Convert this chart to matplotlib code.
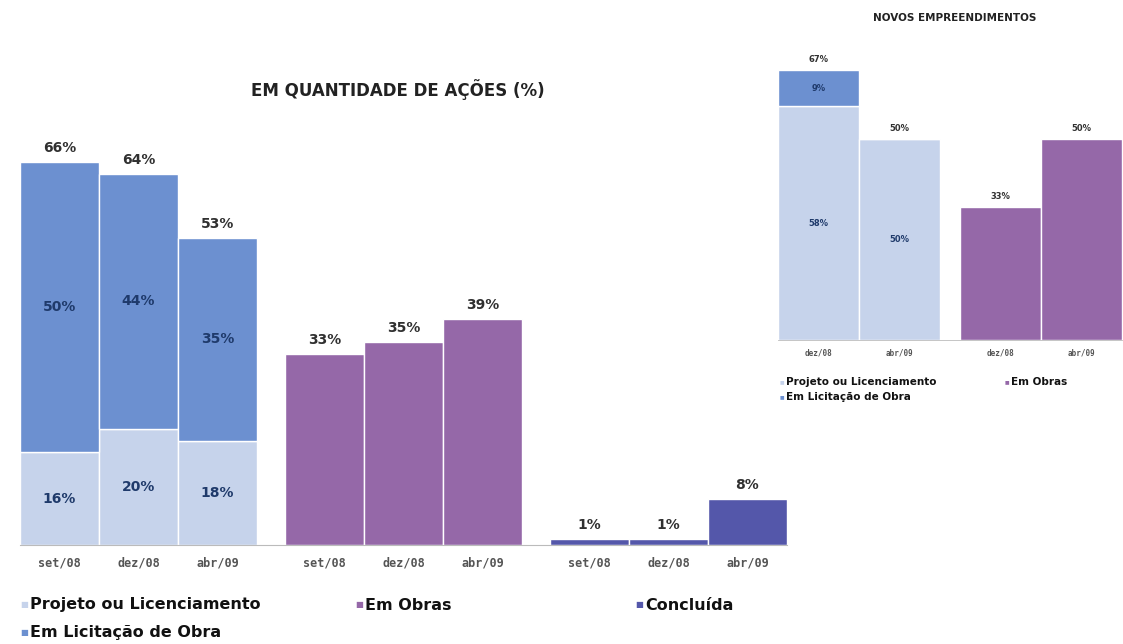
import matplotlib
matplotlib.use("Agg")
import matplotlib.pyplot as plt

# ---------------- data ----------------
months = ["set/08", "dez/08", "abr/09"]
projeto = [16, 20, 18]
licitacao = [50, 44, 35]
em_obras = [33, 35, 39]
concluida = [1, 1, 8]

inset_months_a = ["dez/08", "abr/09"]
inset_projeto = [58, 50]
inset_licitacao = [9, 0]
inset_months_b = ["dez/08", "abr/09"]
inset_obras = [33, 50]

main_title = "EM QUANTIDADE DE AÇÕES (%)"
inset_title = "NOVOS EMPREENDIMENTOS"

# ---------------- style ----------------
C_PROJ = "#C6D3EB"
C_LIC = "#6C90D0"
C_OBRAS = "#9568A8"
C_CONC = "#5457AA"
C_IN = "#1F3A6B"
C_TOP = "#303030"

W, H = 1123, 644
fig = plt.figure(figsize=(W / 100, H / 100), dpi=100)

def fx(px):
    return px / W

def fy(py):
    return 1 - py / H

# ---------------- main chart ----------------
ax = fig.add_axes([fx(20), fy(545), fx(767), 406 / H])
stride = 3.35
xs = [[g * stride + m for m in range(3)] for g in range(3)]
bw = 1.0
ek = dict(edgecolor="white", linewidth=1.0)

ax.bar(xs[0], projeto, bw, color=C_PROJ, **ek)
ax.bar(xs[0], licitacao, bw, bottom=projeto, color=C_LIC, **ek)
ax.bar(xs[1], em_obras, bw, color=C_OBRAS, **ek)
ax.bar(xs[2], concluida, bw, color=C_CONC, **ek)

lf = dict(fontsize=10, fontweight="bold", ha="center")
for i in range(3):
    x = xs[0][i]
    tot = projeto[i] + licitacao[i]
    ax.text(x, tot + 1.2, f"{tot}%", color=C_TOP, va="bottom", **lf)
    ax.text(x, projeto[i] / 2, f"{projeto[i]}%", color=C_IN, va="center", **lf)
    ax.text(x, projeto[i] + licitacao[i] / 2, f"{licitacao[i]}%", color=C_IN, va="center", **lf)
    ax.text(xs[1][i], em_obras[i] + 1.2, f"{em_obras[i]}%", color=C_TOP, va="bottom", **lf)
    ax.text(xs[2][i], concluida[i] + 1.2, f"{concluida[i]}%", color=C_TOP, va="bottom", **lf)

ax.set_xlim(-0.5, 2 * stride + 2.5)
ax.set_ylim(0, 70)
ax.set_yticks([])
allx = xs[0] + xs[1] + xs[2]
ax.set_xticks(allx)
ax.set_xticklabels(months * 3, fontsize=8.5, fontweight="bold", color="#555555",
                   family="DejaVu Sans Mono")
ax.tick_params(axis="x", length=0, pad=8)
for s in ["top", "right", "left"]:
    ax.spines[s].set_visible(False)
ax.spines["bottom"].set_color("#BBBBBB")
ax.spines["bottom"].set_linewidth(0.8)

fig.text(fx(398), fy(90), main_title, ha="center", va="center",
         fontsize=12, fontweight="bold", color="#222222",
         family="DejaVu Sans")

# main legend
leg_items = [
    (20, 605, C_PROJ, "Projeto ou Licenciamento"),
    (355, 605, C_OBRAS, "Em Obras"),
    (635, 605, C_CONC, "Concluída"),
    (20, 632, C_LIC, "Em Licitação de Obra"),
]
for x, y, c, t in leg_items:
    fig.text(fx(x), fy(y), "■", color=c, fontsize=6, va="center", ha="left")
    fig.text(fx(x + 10), fy(y), t, color="#111111", fontsize=11.5,
             fontweight="bold", va="center", ha="left")

# ---------------- inset chart ----------------
ax2 = fig.add_axes([fx(778), fy(340), fx(344), 282 / H])
istride = 2.25
ixa = [0, 1]
ixb = [istride, istride + 1]
ax2.bar(ixa, inset_projeto, bw, color=C_PROJ, **ek)
ax2.bar(ixa, inset_licitacao, bw, bottom=inset_projeto, color=C_LIC, **ek)
ax2.bar(ixb, inset_obras, bw, color=C_OBRAS, **ek)

sf = dict(fontsize=6, fontweight="bold", ha="center")
for i in range(2):
    tot = inset_projeto[i] + inset_licitacao[i]
    ax2.text(ixa[i], tot + 1.5, f"{tot}%", color=C_TOP, va="bottom", **sf)
    ax2.text(ixa[i], inset_projeto[i] / 2, f"{inset_projeto[i]}%",
             color=C_IN, va="center", **sf)
    if inset_licitacao[i] > 0:
        ax2.text(ixa[i], inset_projeto[i] + inset_licitacao[i] / 2,
                 f"{inset_licitacao[i]}%", color=C_IN, va="center", **sf)
    ax2.text(ixb[i], inset_obras[i] + 1.5, f"{inset_obras[i]}%", color=C_TOP,
             va="bottom", **sf)

ax2.set_xlim(-0.5, istride + 1.5)
ax2.set_ylim(0, 70)
ax2.set_yticks([])
ax2.set_xticks(ixa + ixb)
ax2.set_xticklabels(inset_months_a + inset_months_b, fontsize=5.5,
                    fontweight="bold", color="#555555", family="DejaVu Sans Mono")
ax2.tick_params(axis="x", length=0, pad=6)
for s in ["top", "right", "left"]:
    ax2.spines[s].set_visible(False)
ax2.spines["bottom"].set_color("#BBBBBB")
ax2.spines["bottom"].set_linewidth(0.6)

fig.text(fx(955), fy(18), inset_title, ha="center", va="center",
         fontsize=7.5, fontweight="bold", color="#222222",
         family="DejaVu Sans")

inset_leg = [
    (780, 382, C_PROJ, "Projeto ou Licenciamento"),
    (1005, 382, C_OBRAS, "Em Obras"),
    (780, 397, C_LIC, "Em Licitação de Obra"),
]
for x, y, c, t in inset_leg:
    fig.text(fx(x), fy(y), "■", color=c, fontsize=3.5, va="center", ha="left")
    fig.text(fx(x + 6), fy(y), t, color="#111111", fontsize=7.5,
             fontweight="bold", va="center", ha="left", family="DejaVu Sans")

fig.savefig("out.png", dpi=100)
